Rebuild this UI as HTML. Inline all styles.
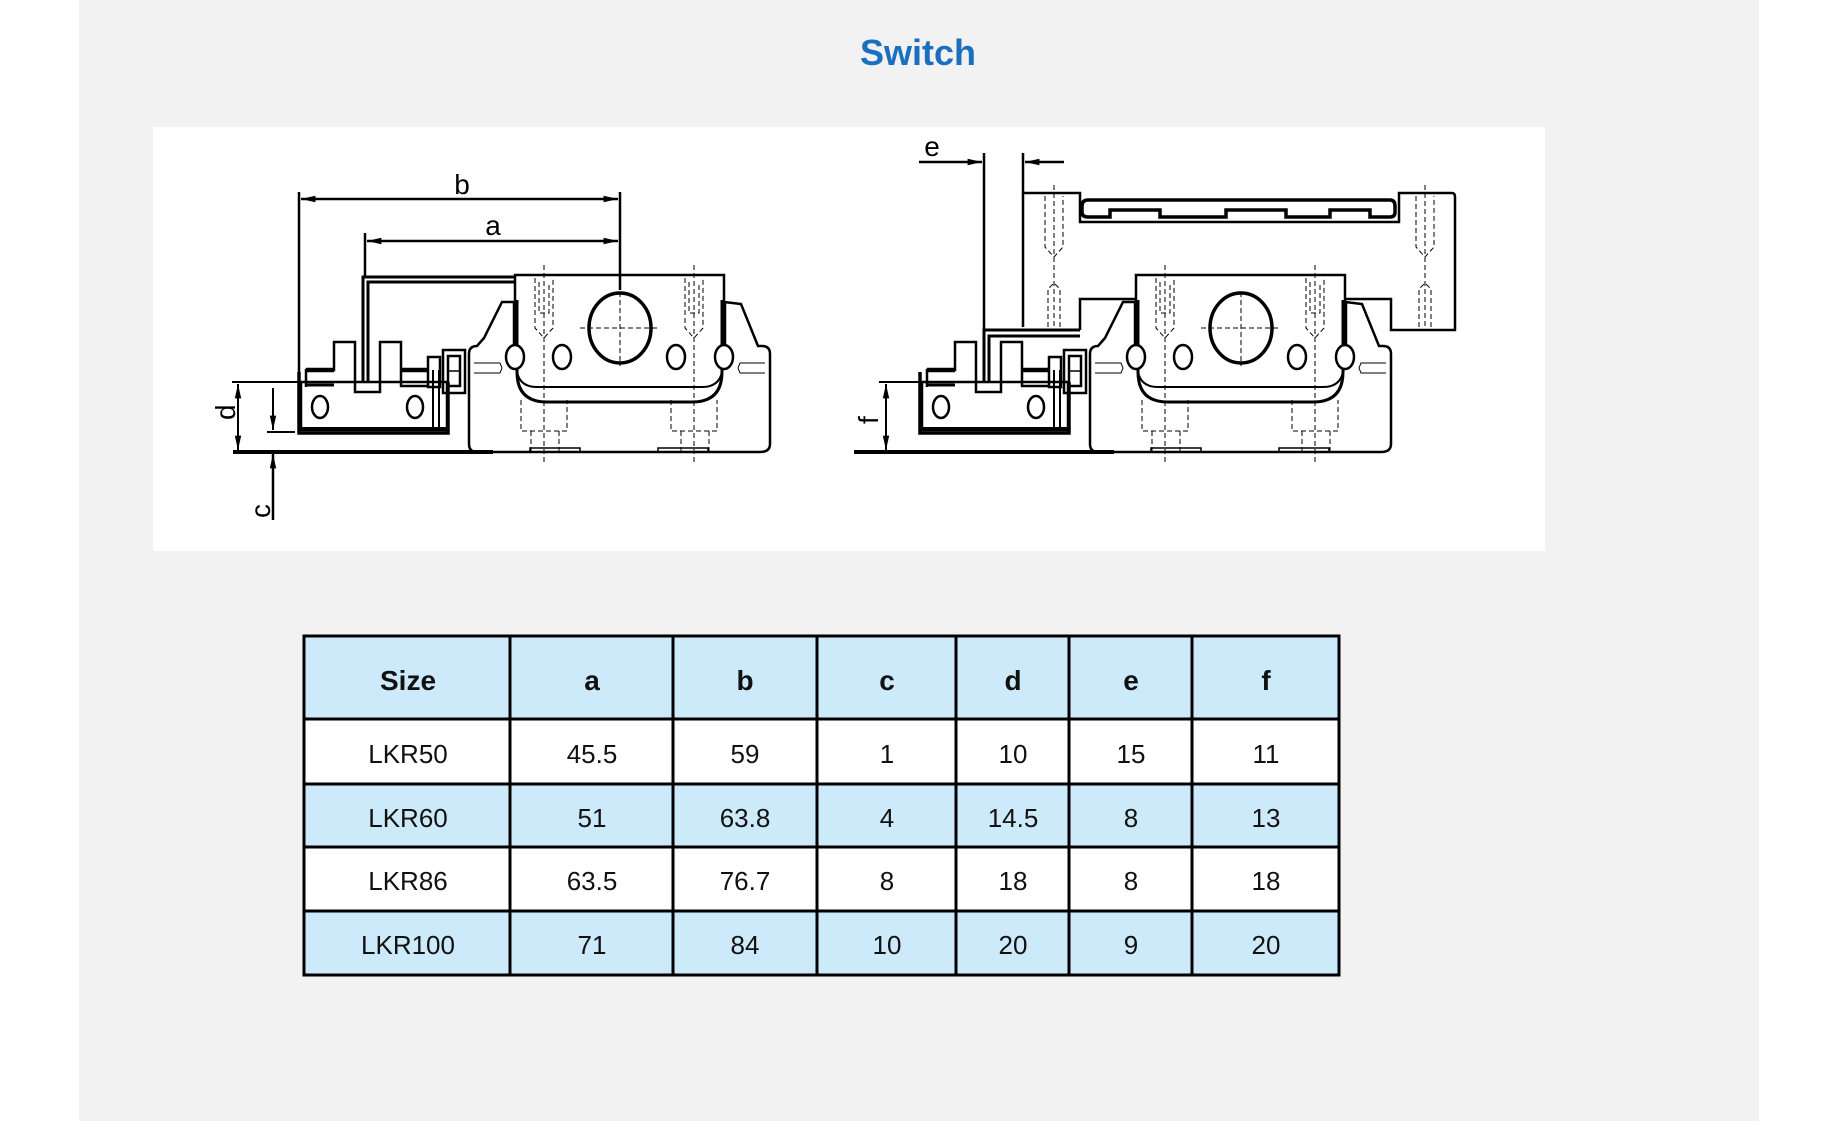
<!DOCTYPE html>
<html><head><meta charset="utf-8"><style>
html,body{margin:0;padding:0;background:#fff;}
svg{display:block;}
</style></head><body>
<svg width="1838" height="1121" viewBox="0 0 1838 1121" xmlns="http://www.w3.org/2000/svg" font-family="Liberation Sans, sans-serif">
<rect x="79" y="0" width="1680" height="1121" fill="#f2f2f2"/>
<text x="918" y="65" text-anchor="middle" font-size="36" font-weight="bold" fill="#1a6fbf">Switch</text>
<rect x="153" y="127" width="1392" height="424" fill="#fff"/>

<defs>
<marker id="ar" viewBox="0 0 18 10" refX="18" refY="5" markerWidth="18" markerHeight="8" orient="auto-start-reverse" markerUnits="userSpaceOnUse"><path d="M0,1 L18,5 L0,9 z" fill="#000"/></marker>
<g id="unit">
 <line x1="233" y1="452" x2="493" y2="452" stroke="#000" stroke-width="4"/>
 <path d="M477,452 L760,452 Q770,452 770,444 L770,354 Q770,346 762,346 L758,346 L741,304 L724,302 L724,275 L515,275 L515,302 L502,302 L484,338 L477,346 Q469,346 469,354 L469,444 Q469,452 477,452 Z" fill="none" stroke="#000" stroke-width="2.5"/>
 <path d="M530,452 L530,448 L580,448 L580,452 M658,452 L658,448 L708,448 L708,452" fill="none" stroke="#000" stroke-width="1.5"/>
 <path d="M517,300 L517,372 Q517,402 547,402 L692,402 Q722,402 722,372 L722,300" fill="none" stroke="#000" stroke-width="3"/>
 <path d="M517,372 Q520,387 537,387 L702,387 Q719,387 722,372" fill="none" stroke="#000" stroke-width="2"/>
 <line x1="515" y1="302" x2="515" y2="355" stroke="#000" stroke-width="4.5"/>
 <line x1="724" y1="302" x2="724" y2="355" stroke="#000" stroke-width="4.5"/>
 <ellipse cx="620" cy="328" rx="31" ry="35" fill="none" stroke="#000" stroke-width="3.5"/>
 <ellipse cx="515" cy="357" rx="9" ry="12" fill="#fff" stroke="#000" stroke-width="2.5"/>
 <ellipse cx="562" cy="357" rx="9" ry="12" fill="#fff" stroke="#000" stroke-width="2.5"/>
 <ellipse cx="676" cy="357" rx="9" ry="12" fill="#fff" stroke="#000" stroke-width="2.5"/>
 <ellipse cx="724" cy="357" rx="9" ry="12" fill="#fff" stroke="#000" stroke-width="2.5"/>
 <g stroke="#000" stroke-width="1" fill="none" stroke-dasharray="5,3">
  <line x1="580" y1="328" x2="660" y2="328"/>
  <line x1="620" y1="292" x2="620" y2="366"/>
  <path d="M535,278 L535,328 L544,338 L553,328 L553,278 M539,282 L539,313 L549,313 L549,282"/>
  <path d="M685,278 L685,328 L694,338 L703,328 L703,278 M689,282 L689,313 L699,313 L699,282"/>
  <path d="M521,400 L521,431 L567,431 L567,400 M531,431 L531,452 M559,431 L559,452"/>
  <path d="M671,400 L671,431 L717,431 L717,400 M681,431 L681,452 M709,431 L709,452"/>
  <line x1="544" y1="265" x2="544" y2="462"/>
  <line x1="694" y1="265" x2="694" y2="462"/>
 </g>
 <path d="M474,363 L500,363 L502,368 L500,373 L474,373" fill="none" stroke="#000" stroke-width="1"/>
 <path d="M765,363 L740,363 L738,368 L740,373 L765,373" fill="none" stroke="#000" stroke-width="1"/>
 <rect x="301" y="382" width="146" height="48" fill="none" stroke="#000" stroke-width="2.5"/>
 <path d="M299,372 L299,433 L448,433 L448,382" fill="none" stroke="#000" stroke-width="3.5"/>
 <line x1="299" y1="428" x2="446" y2="428" stroke="#000" stroke-width="2"/>
 <line x1="433" y1="370" x2="433" y2="428" stroke="#000" stroke-width="2"/>
 <line x1="439" y1="370" x2="439" y2="428" stroke="#000" stroke-width="2"/>
 <ellipse cx="320" cy="407" rx="8" ry="11" fill="none" stroke="#000" stroke-width="2.5"/>
 <ellipse cx="415" cy="407" rx="8" ry="11" fill="none" stroke="#000" stroke-width="2.5"/>
 <path d="M306,387 L306,370 L334,370 L334,342 L355,342 L355,392 L380,392 L380,342 L401,342 L401,386 L428,386" fill="none" stroke="#000" stroke-width="2.5"/>
 <line x1="306" y1="370" x2="334" y2="370" stroke="#000" stroke-width="4.5"/>
 <line x1="401" y1="370" x2="428" y2="370" stroke="#000" stroke-width="4.5"/>
 <line x1="306" y1="385" x2="334" y2="385" stroke="#000" stroke-width="3"/>
 <rect x="428" y="357" width="12" height="30" fill="none" stroke="#000" stroke-width="2.5"/>
 <rect x="443" y="350" width="22" height="43" fill="none" stroke="#000" stroke-width="2.5"/>
 <rect x="448" y="356" width="12" height="30" fill="none" stroke="#000" stroke-width="2.5"/>
 <line x1="448" y1="371" x2="460" y2="371" stroke="#000" stroke-width="1.5"/>
</g>
</defs>

<use href="#unit"/>
<g stroke="#000" fill="none">
 <path d="M363,382 L363,277 L515,277" stroke-width="3"/>
 <path d="M368,382 L368,282 L515,282" stroke-width="3"/>
 <line x1="299" y1="192" x2="299" y2="425" stroke-width="2.5"/>
 <line x1="620" y1="192" x2="620" y2="290" stroke-width="2.5"/>
 <line x1="301" y1="199" x2="618" y2="199" stroke-width="2.5" marker-start="url(#ar)" marker-end="url(#ar)"/>
 <line x1="365" y1="233" x2="365" y2="277" stroke-width="2.5"/>
 <line x1="367" y1="241" x2="618" y2="241" stroke-width="2.5" marker-start="url(#ar)" marker-end="url(#ar)"/>
 <line x1="232" y1="382" x2="299" y2="382" stroke-width="2"/>
 <line x1="238" y1="384" x2="238" y2="450" stroke-width="2" marker-start="url(#ar)" marker-end="url(#ar)"/>
 <line x1="267" y1="432" x2="295" y2="432" stroke-width="2"/>
 <line x1="273" y1="388" x2="273" y2="430" stroke-width="2" marker-end="url(#ar)"/>
 <line x1="273" y1="520" x2="273" y2="454" stroke-width="2.5" marker-end="url(#ar)"/>
</g>
<text x="462" y="194" text-anchor="middle" font-size="28" fill="#000">b</text>
<text x="493" y="235" text-anchor="middle" font-size="28" fill="#000">a</text>
<text x="0" y="0" font-size="28" fill="#000" transform="translate(235,420) rotate(-90)">d</text>
<text x="0" y="0" font-size="28" fill="#000" transform="translate(270,518) rotate(-90)">c</text>

<use href="#unit" transform="translate(621,0)"/>
<g stroke="#000" fill="none">
 <path d="M1023,327 L1023,193 L1080,193 L1080,222 L1399,222 L1399,193 L1452,193 Q1455,193 1455,197 L1455,330 L1391,330 L1391,299 L1346,299" stroke-width="2.5"/>
 <path d="M1080,330 L1080,299 L1136,299" stroke-width="2.5"/>
 <path d="M1088,200 L1390,200 Q1395,200 1395,206 L1395,212 Q1395,217 1390,217 L1370,217 L1370,210 L1330,210 L1330,217 L1286,217 L1286,210 L1226,210 L1226,217 L1160,217 L1160,210 L1110,210 L1110,217 L1088,217 Q1082,217 1082,212 L1082,206 Q1082,200 1088,200 Z" stroke-width="3.5"/>
 <g stroke-width="1" stroke-dasharray="5,3">
  <path d="M1045,196 L1045,247 L1054,257 L1063,247 L1063,196"/>
  <path d="M1416,196 L1416,247 L1425,257 L1434,247 L1434,196"/>
  <path d="M1048,327 L1048,289 L1054,283 L1060,289 L1060,327"/>
  <path d="M1419,327 L1419,289 L1425,283 L1431,289 L1431,327"/>
  <line x1="1054" y1="185" x2="1054" y2="330"/>
  <line x1="1425" y1="185" x2="1425" y2="330"/>
 </g>
 <path d="M984,382 L984,330 L1080,330" stroke-width="3"/>
 <path d="M989,382 L989,336 L1080,336" stroke-width="3"/>
 <line x1="984" y1="153" x2="984" y2="330" stroke-width="2.5"/>
 <line x1="1023" y1="153" x2="1023" y2="193" stroke-width="2.5"/>
 <line x1="919" y1="162" x2="982" y2="162" stroke-width="2.5" marker-end="url(#ar)"/>
 <line x1="1064" y1="162" x2="1025" y2="162" stroke-width="2.5" marker-end="url(#ar)"/>
 <line x1="879" y1="382" x2="921" y2="382" stroke-width="2"/>
 <line x1="886" y1="384" x2="886" y2="450" stroke-width="2" marker-start="url(#ar)" marker-end="url(#ar)"/>
</g>
<text x="932" y="156" text-anchor="middle" font-size="28" fill="#000">e</text>
<text x="0" y="0" font-size="28" fill="#000" transform="translate(878,424) rotate(-90)">f</text>

<g>
 <rect x="304" y="636" width="1035" height="83" fill="#cdeafb"/>
 <rect x="304" y="719" width="1035" height="65" fill="#fff"/>
 <rect x="304" y="784" width="1035" height="63" fill="#cdeafb"/>
 <rect x="304" y="847" width="1035" height="64" fill="#fff"/>
 <rect x="304" y="911" width="1035" height="64" fill="#cdeafb"/>
 <g stroke="#000" stroke-width="3">
  <rect x="304" y="636" width="1035" height="339" fill="none"/>
  <line x1="510" y1="636" x2="510" y2="975"/>
  <line x1="673" y1="636" x2="673" y2="975"/>
  <line x1="817" y1="636" x2="817" y2="975"/>
  <line x1="956" y1="636" x2="956" y2="975"/>
  <line x1="1069" y1="636" x2="1069" y2="975"/>
  <line x1="1192" y1="636" x2="1192" y2="975"/>
  <line x1="304" y1="719" x2="1339" y2="719"/>
  <line x1="304" y1="784" x2="1339" y2="784"/>
  <line x1="304" y1="847" x2="1339" y2="847"/>
  <line x1="304" y1="911" x2="1339" y2="911"/>
 </g>
 <g font-size="28" font-weight="bold" text-anchor="middle" fill="#111">
  <text x="408" y="690">Size</text><text x="592" y="690">a</text><text x="745" y="690">b</text><text x="887" y="690">c</text><text x="1013" y="690">d</text><text x="1131" y="690">e</text><text x="1266" y="690">f</text>
 </g>
 <g font-size="26" text-anchor="middle" fill="#111">
  <text x="408" y="763">LKR50</text><text x="592" y="763">45.5</text><text x="745" y="763">59</text><text x="887" y="763">1</text><text x="1013" y="763">10</text><text x="1131" y="763">15</text><text x="1266" y="763">11</text>
  <text x="408" y="827">LKR60</text><text x="592" y="827">51</text><text x="745" y="827">63.8</text><text x="887" y="827">4</text><text x="1013" y="827">14.5</text><text x="1131" y="827">8</text><text x="1266" y="827">13</text>
  <text x="408" y="890">LKR86</text><text x="592" y="890">63.5</text><text x="745" y="890">76.7</text><text x="887" y="890">8</text><text x="1013" y="890">18</text><text x="1131" y="890">8</text><text x="1266" y="890">18</text>
  <text x="408" y="954">LKR100</text><text x="592" y="954">71</text><text x="745" y="954">84</text><text x="887" y="954">10</text><text x="1013" y="954">20</text><text x="1131" y="954">9</text><text x="1266" y="954">20</text>
 </g>
</g>
</svg>
</body></html>
